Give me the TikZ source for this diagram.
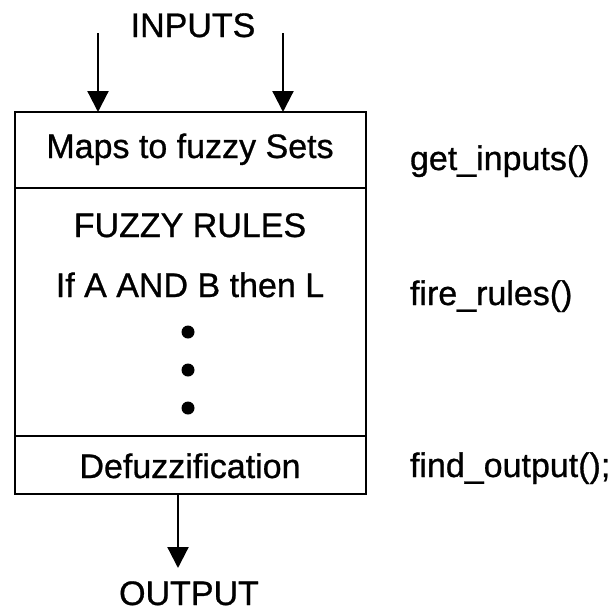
\documentclass[tikz,border=0pt]{standalone}
\usepackage{fontspec}
\setmainfont{Liberation Sans}[FakeBold=0.8]
\usetikzlibrary{arrows.meta}

\begin{document}
\begin{tikzpicture}[x=1pt, y=-1pt,
  label/.style={font=\fontsize{34}{40}\selectfont, inner sep=0pt, outer sep=0pt},
  centred/.style={label, anchor=base},
  call/.style={label, anchor=base west},
  section/.style={draw, line width=2.6pt, minimum width=351pt, inner sep=0pt,
                  outer sep=0pt, anchor=north west},
  flow/.style={line width=2.2pt, -{Triangle[length=21pt, width=21pt]}},
  bullet/.style={circle, fill, minimum size=13pt, inner sep=0pt}]
\useasboundingbox (0,0) rectangle (616,611);

% the three stacked blocks of the controller
\node[section, minimum height=76pt]  (maps)   at (15,112) {};
\node[section, minimum height=248pt] (rules)  at (15,188) {};
\node[section, minimum height=58pt]  (defuzz) at (15,436) {};

% block texts
\node[centred] (mapstext)  at (190,158) {Maps to fuzzy Sets};
\node[centred] (ruleshead) at (190,237) {FUZZY RULES};
\node[centred] (ruleone)   at (190,297) {If A AND B then L};
\node[bullet] (dotA) at (188,332) {};
\node[bullet] (dotB) at (188,370) {};
\node[bullet] (dotC) at (188,408) {};
\node[centred] (defuzztext) at (190,478) {Defuzzification};

% function names beside each block
\node[call] (getin)  at (410,170) {get\_inputs()};
\node[call] (fire)   at (410,305) {fire\_rules()};
\node[call] (findout) at (410,477) {find\_output();};

% inputs and output
\node[centred] (inputs) at (193,37) {INPUTS};
\node[centred] (output) at (189,605) {OUTPUT};
\coordinate (inL) at (98,33);
\coordinate (inR) at (283,33);
\coordinate (outEnd) at (178,568);

\draw[flow] (inL) -- (inL |- maps.north);
\draw[flow] (inR) -- (inR |- maps.north);
\draw[flow] (defuzz.south -| outEnd) -- (outEnd);
\end{tikzpicture}
\end{document}
